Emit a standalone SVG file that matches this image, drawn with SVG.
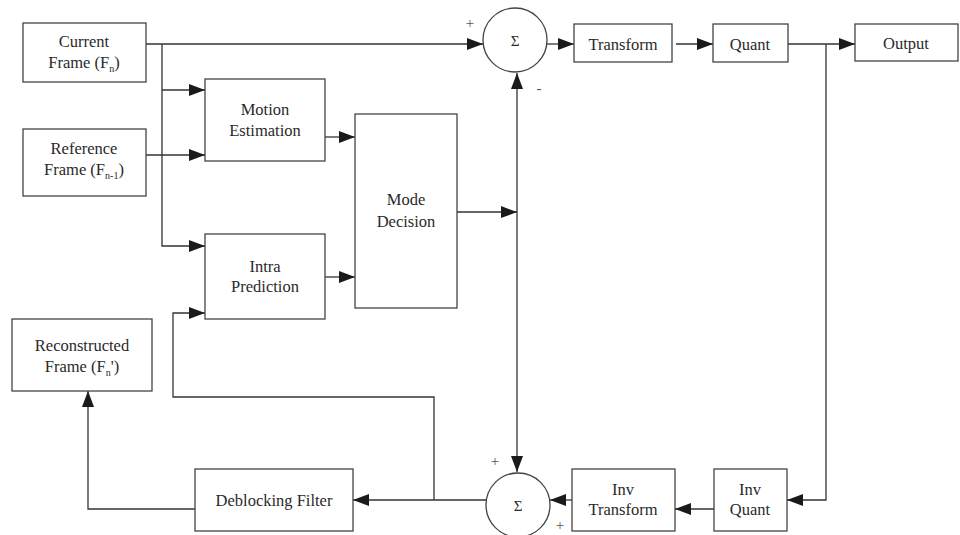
<svg xmlns="http://www.w3.org/2000/svg" width="960" height="535" viewBox="0 0 960 535">
<style>
.box{fill:#fff;stroke:#444;stroke-width:1.3}
.t{font-family:"Liberation Serif","Times New Roman",serif;font-size:16.5px;fill:#2a2a2a;text-anchor:middle}
.s{font-size:10px}
.ln{fill:none;stroke:#333;stroke-width:1.3}
.sg{font-family:"Liberation Serif",serif;font-size:15px;fill:#555;text-anchor:middle}
</style>
<defs>
<marker id="ah" viewBox="0 0 16 12" refX="16" refY="6" markerWidth="16" markerHeight="12" markerUnits="userSpaceOnUse" orient="auto">
<path d="M0,0 L16,6 L0,12 Z" fill="#1a1a1a"/>
</marker>
</defs>
<g id="connectors">
<path class="ln" d="M146,44 H483" marker-end="url(#ah)"/>
<path class="ln" d="M162,44 V246 H205" marker-end="url(#ah)"/>
<path class="ln" d="M162,90 H205" marker-end="url(#ah)"/>
<path class="ln" d="M146,155 H205" marker-end="url(#ah)"/>
<path class="ln" d="M325,137 H355" marker-end="url(#ah)"/>
<path class="ln" d="M325,277 H355" marker-end="url(#ah)"/>
<path class="ln" d="M457,212 H517" marker-end="url(#ah)"/>
<path class="ln" d="M517,212 V73" marker-end="url(#ah)"/>
<path class="ln" d="M517,212 V472" marker-end="url(#ah)"/>
<path class="ln" d="M547,44 H574" marker-end="url(#ah)"/>
<path class="ln" d="M676,44 H713" marker-end="url(#ah)"/>
<path class="ln" d="M788,44 H855" marker-end="url(#ah)"/>
<path class="ln" d="M826,44 V500 H787" marker-end="url(#ah)"/>
<path class="ln" d="M714,509 H675" marker-end="url(#ah)"/>
<path class="ln" d="M572,500 H550" marker-end="url(#ah)"/>
<path class="ln" d="M486,500 H353" marker-end="url(#ah)"/>
<path class="ln" d="M434,500 V397 H173 V313 H205" marker-end="url(#ah)"/>
<path class="ln" d="M195,509 H88 V391" marker-end="url(#ah)"/>
</g>
<g id="current">
<rect class="box" x="23" y="23" width="123" height="59"/>
<text class="t" x="84" y="47">Current</text>
<text class="t" x="84" y="68">Frame (F<tspan class="s" dy="4">n</tspan><tspan dy="-4">)</tspan></text>
</g>
<g id="reference">
<rect class="box" x="23" y="129" width="123" height="67"/>
<text class="t" x="84" y="154">Reference</text>
<text class="t" x="84" y="175">Frame (F<tspan class="s" dy="4">n-1</tspan><tspan dy="-4">)</tspan></text>
</g>
<g id="motion">
<rect class="box" x="205" y="79" width="120" height="82"/>
<text class="t" x="265" y="115">Motion</text>
<text class="t" x="265" y="136">Estimation</text>
</g>
<g id="intra">
<rect class="box" x="205" y="234" width="120" height="85"/>
<text class="t" x="265" y="272">Intra</text>
<text class="t" x="265" y="292">Prediction</text>
</g>
<g id="mode">
<rect class="box" x="355" y="114" width="102" height="194"/>
<text class="t" x="406" y="205">Mode</text>
<text class="t" x="406" y="227">Decision</text>
</g>
<g id="sum1">
<circle cx="515" cy="40" r="32" fill="#fff" stroke="#444" stroke-width="1.3"/>
<text class="t" x="515" y="46" style="font-size:15px">Σ</text>
<text class="sg" x="470" y="28">+</text>
<text class="sg" x="539" y="93">-</text>
</g>
<g id="transform">
<rect class="box" x="574" y="24" width="98" height="38"/>
<text class="t" x="623" y="50">Transform</text>
</g>
<g id="quant">
<rect class="box" x="713" y="24" width="75" height="38"/>
<text class="t" x="750" y="50">Quant</text>
</g>
<g id="output">
<rect class="box" x="855" y="24" width="103" height="37"/>
<text class="t" x="906" y="49">Output</text>
</g>
<g id="reconstructed">
<rect class="box" x="12" y="319" width="140" height="72"/>
<text class="t" x="82" y="351">Reconstructed</text>
<text class="t" x="82" y="372">Frame (F<tspan class="s" dy="4">n</tspan><tspan dy="-4">')</tspan></text>
</g>
<g id="deblocking">
<rect class="box" x="195" y="469" width="158" height="62"/>
<text class="t" x="274" y="506">Deblocking  Filter</text>
</g>
<g id="sum2">
<circle cx="518" cy="505" r="32" fill="#fff" stroke="#444" stroke-width="1.3"/>
<text class="t" x="518" y="511" style="font-size:15px">Σ</text>
<text class="sg" x="495" y="466">+</text>
<text class="sg" x="560" y="530">+</text>
</g>
<g id="invtransform">
<rect class="box" x="572" y="469" width="103" height="62"/>
<text class="t" x="623" y="495">Inv</text>
<text class="t" x="623" y="515">Transform</text>
</g>
<g id="invquant">
<rect class="box" x="714" y="469" width="73" height="62"/>
<text class="t" x="750" y="495">Inv</text>
<text class="t" x="750" y="515">Quant</text>
</g>
</svg>
